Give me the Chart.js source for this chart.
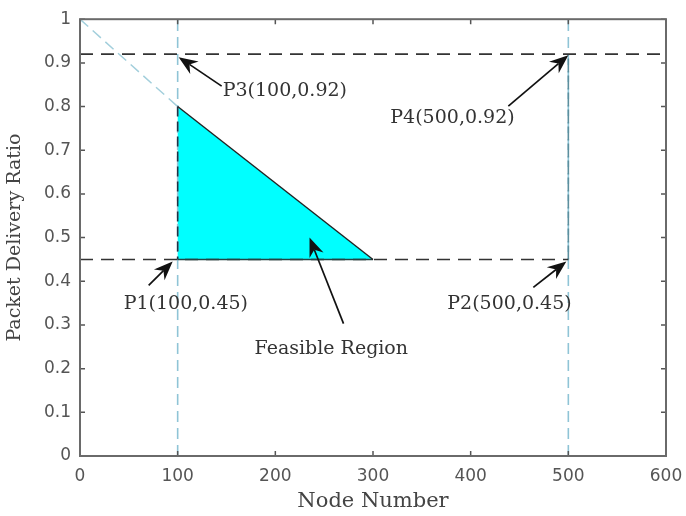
<!DOCTYPE html>
<html>
<head>
<meta charset="utf-8">
<script src="https://cdn.jsdelivr.net/npm/chart.js@4.4.1/dist/chart.umd.min.js"></script>
<style>
html,body{margin:0;padding:0;background:#fff;}
#wrap{width:686px;height:516px;}
</style>
</head>
<body>
<div id="wrap"><canvas id="c" width="686" height="516"></canvas></div>
<script>
// ---- data ----
const xTicks = [0, 100, 200, 300, 400, 500, 600];
const yTicks = [0, 0.1, 0.2, 0.3, 0.4, 0.5, 0.6, 0.7, 0.8, 0.9, 1];
const regionX = [100, 100, 300];
const regionY = [0.8, 0.45, 0.45];
const extensionX = [0, 100];
const extensionY = [1, 0.8];
const bound92X = [0, 600];
const bound92Y = [0.92, 0.92];
const bound45X = [0, 500];
const bound45Y = [0.45, 0.45];
const vert100X = [100, 100];
const vert100Y = [0, 1];
const vert500X = [500, 500];
const vert500Y = [0, 1];
const edge500X = [500, 500];
const edge500Y = [0.45, 0.92];
const pointLabels = ['P1(100,0.45)', 'P2(500,0.45)', 'P3(100,0.92)', 'P4(500,0.92)', 'Feasible Region'];
const pointX = [100, 500, 100, 500, 235];
const pointY = [0.45, 0.45, 0.92, 0.92, 0.50];

const toXY = (xs, ys) => xs.map((x, i) => ({x: x, y: ys[i]}));

// pixel layout of annotations (style/position only)
const annLayout = [
  {head: [-5, 2], tail: [-29, 26], text: [-54, 45]},
  {head: [-2, 2], tail: [-35, 28], text: [-121, 45]},
  {head: [1, 3], tail: [44, 32], text: [45, 37]},
  {head: [0, 1], tail: [-60, 52], text: [-178, 64]},
  {head: [0, 0], tail: [34, 86], text: [-55, 111]}
];

const regionFill = {
  id: 'regionFill',
  beforeDatasetsDraw(chart) {
    const ctx = chart.ctx;
    const xs = chart.scales.x, ys = chart.scales.y;
    ctx.save();
    ctx.fillStyle = '#00ffff';
    ctx.beginPath();
    regionX.forEach((x, i) => {
      const px = xs.getPixelForValue(x), py = ys.getPixelForValue(regionY[i]);
      if (i === 0) ctx.moveTo(px, py); else ctx.lineTo(px, py);
    });
    ctx.closePath();
    ctx.fill();
    ctx.restore();
  }
};

const frame = {
  id: 'frame',
  afterDatasetsDraw(chart) {
    const ctx = chart.ctx;
    const a = chart.chartArea;
    const xs = chart.scales.x, ys = chart.scales.y;
    ctx.save();
    // inward ticks
    ctx.strokeStyle = '#555';
    ctx.lineWidth = 1.5;
    const tl = 5;
    xTicks.forEach(v => {
      const px = xs.getPixelForValue(v);
      ctx.beginPath();
      ctx.moveTo(px, a.bottom); ctx.lineTo(px, a.bottom - tl);
      ctx.moveTo(px, a.top); ctx.lineTo(px, a.top + tl);
      ctx.stroke();
    });
    yTicks.forEach(v => {
      const py = ys.getPixelForValue(v);
      ctx.beginPath();
      ctx.moveTo(a.left, py); ctx.lineTo(a.left + tl, py);
      ctx.moveTo(a.right, py); ctx.lineTo(a.right - tl, py);
      ctx.stroke();
    });
    // box
    ctx.strokeStyle = '#6a6a6a';
    ctx.lineWidth = 2;
    ctx.strokeRect(a.left, a.top, a.right - a.left, a.bottom - a.top);

    // annotations
    pointLabels.forEach((lab, i) => {
      const L = annLayout[i];
      const px = xs.getPixelForValue(pointX[i]);
      const py = ys.getPixelForValue(pointY[i]);
      const hx = px + L.head[0], hy = py + L.head[1];
      const tx = px + L.tail[0], ty = py + L.tail[1];
      const ang = Math.atan2(hy - ty, hx - tx);
      const c = Math.cos(ang), s = Math.sin(ang);
      const len = 19, wid = 7.5, notch = 13;
      const bx = hx - len * c, by = hy - len * s;
      ctx.strokeStyle = '#111';
      ctx.fillStyle = '#111';
      ctx.lineWidth = 1.7;
      ctx.beginPath();
      ctx.moveTo(tx, ty); ctx.lineTo(hx - notch * c, hy - notch * s);
      ctx.stroke();
      ctx.beginPath();
      ctx.moveTo(hx, hy);
      ctx.lineTo(bx + wid * s, by - wid * c);
      ctx.lineTo(hx - notch * c, hy - notch * s);
      ctx.lineTo(bx - wid * s, by + wid * c);
      ctx.closePath();
      ctx.fill();
      ctx.font = '19px "DejaVu Serif", serif';
      ctx.fillStyle = '#333';
      ctx.textBaseline = 'middle';
      ctx.textAlign = 'left';
      ctx.fillText(lab, px + L.text[0], py + L.text[1]);
    });
    ctx.restore();
  }
};

const lineDs = (data, color, width, dash, order) => ({
  data: data, showLine: true, pointRadius: 0, borderColor: color,
  borderWidth: width, borderDash: dash, fill: false, tension: 0, order: order
});

new Chart(document.getElementById('c'), {
  type: 'scatter',
  data: {
    datasets: [
      lineDs(toXY(extensionX, extensionY), '#a3cfdc', 1.5, [11, 6], 9),
      lineDs(toXY(vert100X, vert100Y), '#8fc4d6', 1.6, [11, 6], 8),
      lineDs(toXY(vert500X, vert500Y), '#8fc4d6', 1.6, [11, 6], 8),
      lineDs(toXY(edge500X, edge500Y), '#5c8f9e', 1.6, [14, 3], 7),
      lineDs(toXY(bound92X, bound92Y), '#333', 1.6, [13, 8], 6),
      lineDs(toXY(bound45X, bound45Y), '#333', 1.6, [13, 8], 6),
      lineDs(toXY([regionX[2], regionX[0]], [regionY[2], regionY[0]]), '#222', 1.4, [], 5),
      lineDs(toXY([regionX[1], regionX[2]], [regionY[1], regionY[2]]), '#244', 1.4, [], 5),
      lineDs(toXY([regionX[0], regionX[1]], [regionY[0], regionY[1]]), '#234', 1.6, [10, 5], 5)
    ]
  },
  options: {
    responsive: false,
    animation: false,
    events: [],
    layout: {padding: {top: 16, right: 20, bottom: 2, left: 0}},
    plugins: {legend: {display: false}, tooltip: {enabled: false}},
    scales: {
      x: {
        type: 'linear', min: 0, max: 600,
        afterBuildTicks: s => { s.ticks = xTicks.map(v => ({value: v})); },
        afterFit: s => { s.height = 58; s.paddingRight = 0; s.paddingLeft = 0; },
        grid: {display: false, drawTicks: false},
        border: {display: false},
        ticks: {padding: 10, color: '#555', font: {family: '"DejaVu Sans", sans-serif', size: 17},
                callback: v => String(v), maxRotation: 0},
        title: {display: true, text: 'Node Number', color: '#444',
                font: {family: '"DejaVu Serif", serif', size: 21}, padding: {top: 2, bottom: 0}}
      },
      y: {
        type: 'linear', min: 0, max: 1,
        afterBuildTicks: s => { s.ticks = yTicks.map(v => ({value: v})); },
        afterFit: s => { s.width = 80; },
        grid: {display: false, drawTicks: false},
        border: {display: false},
        ticks: {padding: 9, color: '#555', font: {family: '"DejaVu Sans", sans-serif', size: 17},
                callback: v => String(Math.round(v * 10) / 10)},
        title: {display: true, text: 'Packet Delivery Ratio', color: '#444',
                font: {family: '"DejaVu Serif", serif', size: 19}, padding: {top: 4, bottom: 0}}
      }
    }
  },
  plugins: [regionFill, frame]
});
</script>
</body>
</html>
